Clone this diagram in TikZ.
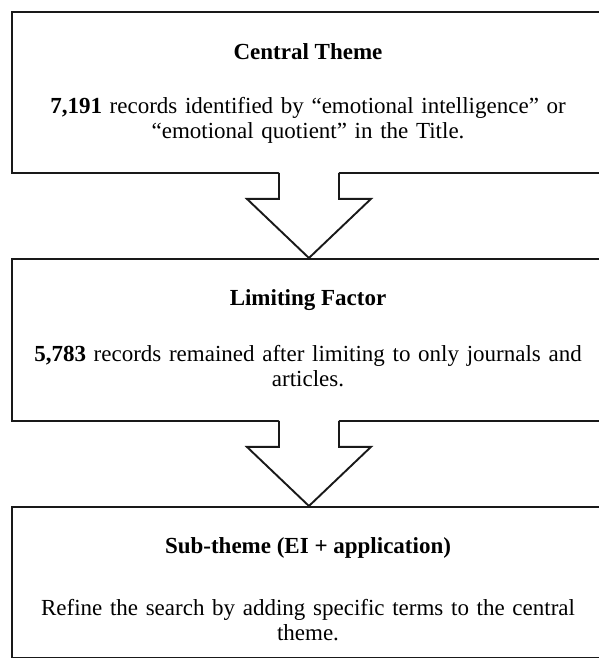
\documentclass[tikz,border=0pt]{standalone}
\usepackage{fontspec}
\setmainfont{Liberation Serif}
\usetikzlibrary{calc}
\begin{document}
\begin{tikzpicture}[x=1pt,y=-1pt,
  box/.style={draw=black!90, line width=1.9pt, anchor=north west, inner sep=0pt, minimum width=594pt},
  ttl/.style={font=\fontsize{23}{25}\selectfont\bfseries, inner sep=0pt},
  txt/.style={font=\fontsize{23}{25}\selectfont, text width=580pt, align=center, inner sep=0pt},
  blkfill/.style={fill=white},
  blkline/.style={draw=black!90, line width=1.9pt, line cap=rect, line join=miter}]
\useasboundingbox (0,0) rectangle (598,658);
% boxes
\node[box, minimum height=161pt] (b1) at (11,11) {};
\node[box, minimum height=162pt] (b2) at (11,258) {};
\node[box, minimum height=151pt] (b3) at (11,506) {};
% texts
\node[ttl] (t1) at (308,52) {Central Theme};
\node[txt] (x1) at (308,120) {\textbf{7,191} records identified by “emotional intelligence” or\\“emotional quotient” in the Title.};
\node[ttl] (t2) at (308,300) {Limiting Factor};
\node[txt] (x2) at (308,366) {\textbf{5,783} records remained after limiting to only journals and\\articles.};
\node[ttl] (t3) at (308,548) {Sub-theme (EI + application)};
\node[txt] (x3) at (308,620) {Refine the search by adding specific terms to the central\\theme.};
% block arrows
\foreach \a/\b in {b1/b2, b2/b3}{
  \fill[blkfill] ($(\a.south)+(-30,-2)$) -- ($(\a.south)+(-30,25)$) -- ($(\a.south)+(-62,25)$) -- (\b.north)
     -- ($(\a.south)+(62,25)$) -- ($(\a.south)+(30,25)$) -- ($(\a.south)+(30,-2)$) -- cycle;
  \draw[blkline] ($(\a.south)+(-30,0)$) -- ($(\a.south)+(-30,25)$) -- ($(\a.south)+(-62,25)$) -- (\b.north)
     -- ($(\a.south)+(62,25)$) -- ($(\a.south)+(30,25)$) -- ($(\a.south)+(30,0)$);
}
\end{tikzpicture}
\end{document}
